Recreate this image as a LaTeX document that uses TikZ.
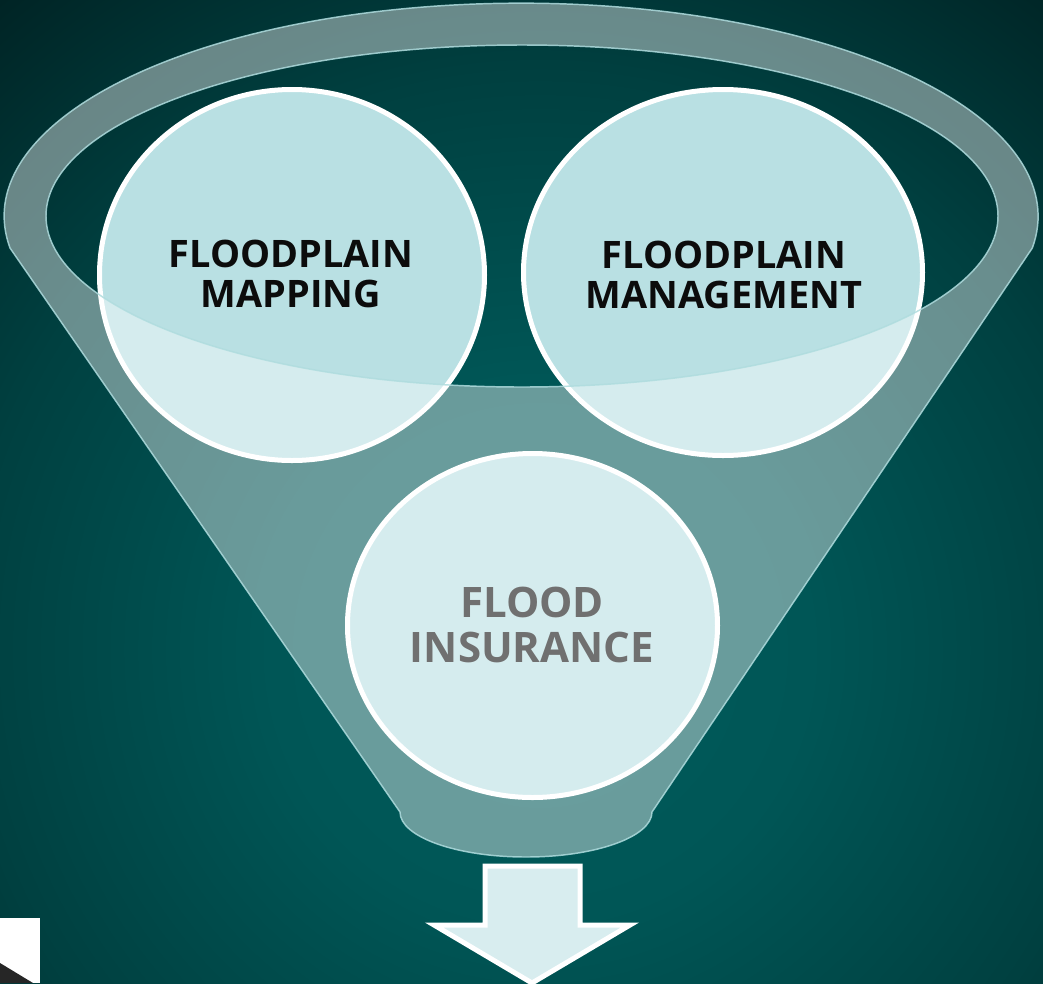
\documentclass[tikz,border=0pt]{standalone}
\usepackage{fontspec}
\setmainfont{Open Sans}
\definecolor{bgA}{RGB}{0,92,92}
\definecolor{bgB}{RGB}{0,86,86}
\definecolor{bgC}{RGB}{0,64,64}
\definecolor{bgD}{RGB}{0,34,35}
\definecolor{discfill}{RGB}{185,224,227}
\definecolor{arrowfill}{RGB}{216,237,239}
\definecolor{rimline}{RGB}{175,220,222}
\definecolor{inktext}{RGB}{12,12,12}
\pgfdeclareradialshading{bgshade}{\pgfpoint{0bp}{0bp}}{color(0bp)=(bgA); color(7.5bp)=(bgB); color(16bp)=(bgC); color(24bp)=(bgD); color(50bp)=(bgD)}
\begin{document}
\begin{tikzpicture}[x=0.75pt,y=-0.75pt,
  disc/.style={fill=discfill, draw=white, line width=3.75pt},
  label/.style={inner sep=0pt, align=center, text=inktext, font=\bfseries\fontsize{28.4}{30}\selectfont},
  biglabel/.style={inner sep=0pt, align=center, text=inktext, font=\bfseries\fontsize{31.5}{33.75}\selectfont},
  funnel/.style={fill=white, fill opacity=0.41, even odd rule, draw=rimline, draw opacity=0.85, line width=1.1pt},
  downarrow/.style={fill=arrowfill, draw=white, line width=3.75pt, line join=miter}]
\useasboundingbox (0,0) rectangle (1043,983);
\begin{scope}
  \clip (0,0) rectangle (1043,983);
  \shade[shading=bgshade] (540,650) circle[radius=900];
\end{scope}
% circles
\path[disc] (292,275) ellipse[x radius=192.5, y radius=185.5];
\path[disc] (723,272.5) ellipse[x radius=199.5, y radius=183];
\path[disc] (532.5,625.5) ellipse[x radius=185, y radius=172];
\node[label] (mapping) at (291,273.5) {FLOODPLAIN\\MAPPING};
\node[label] (management) at (724,274.5) {FLOODPLAIN\\MANAGEMENT};
\node[biglabel] (insurance) at (532,624.5) {FLOOD\\INSURANCE};
% funnel overlay
\path[funnel] (10,248) arc[start angle=171.4, end angle=368.6, x radius=517, y radius=213]
  -- (652,812) arc[start angle=0, end angle=180, x radius=126, y radius=45] -- cycle
  (522,216) ellipse[x radius=476, y radius=171];
% arrow
\path[downarrow] (485,866) -- (580,866) -- (580,925) -- (630,925) -- (532,983) -- (434,925) -- (485,925) -- cycle;
% corner fragment
\fill[white] (0,918) rectangle (40,983);
\fill[black!85] (0,963) -- (33,983) -- (0,983) -- cycle;
\end{tikzpicture}
\end{document}
